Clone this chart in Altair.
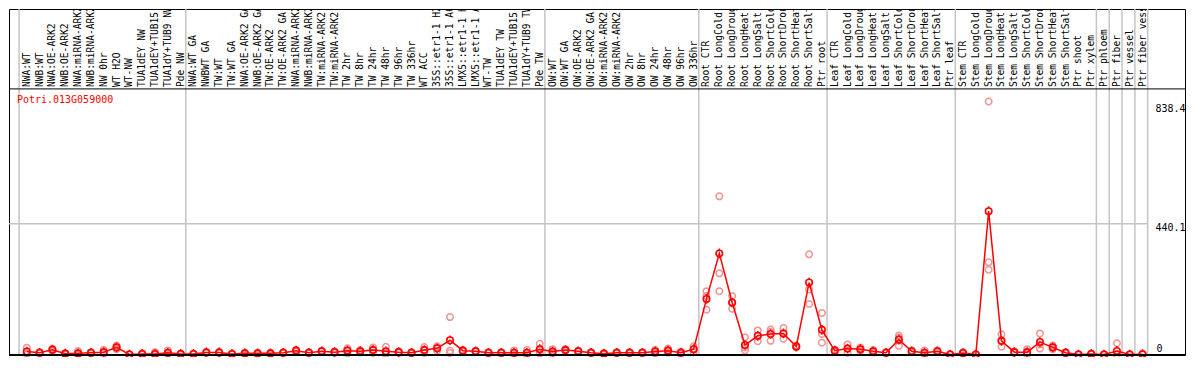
import altair as alt
import pandas as pd

gene = "Potri.013G059000"

labels = [
    "NWA:WT", "NWB:WT", "NWA:OE-ARK2", "NWB:OE-ARK2", "NWA:miRNA-ARK2", "NWB:miRNA-ARK2",
    "NW 0hr", "WT H2O", "WT-NW", "TUA1dEY NW", "TUA1dEY+TUB15 NW", "TUA1dY+TUB9 NW", "Pde NW",
    "NWA:WT GA", "NWBWT GA", "TW:WT", "TW:WT GA", "NWA:OE-ARK2 GA", "NWB:OE-ARK2 GA",
    "TW:OE-ARK2", "TW:OE-ARK2 GA", "NWA:miRNA-ARK2 GA", "NWB:miRNA-ARK2 GA", "TW:miRNA-ARK2",
    "TW:miRNA-ARK2 GA", "TW 2hr", "TW 8hr", "TW 24hr", "TW 48hr", "TW 96hr", "TW 336hr",
    "WT ACC", "35S::etr1-1 H2O", "35S::etr1-1 ACC", "LMX5::etr1-1 H2O", "LMX5::etr1-1 ACC",
    "WT-TW", "TUA1dEY TW", "TUA1dEY+TUB15 TW", "TUA1dY+TUB9 TW", "Pde TW",
    "OW:WT", "OW:WT GA", "OW:OE-ARK2", "OW:OE-ARK2 GA", "OW:miRNA-ARK2", "OW:miRNA-ARK2 GA",
    "OW 2hr", "OW 8hr", "OW 24hr", "OW 48hr", "OW 96hr", "OW 336hr",
    "Root CTR", "Root LongCold", "Root LongDrought", "Root LongHeat", "Root LongSalt",
    "Root ShortCold", "Root ShortDrought", "Root ShortHeat", "Root ShortSalt", "Ptr root",
    "Leaf CTR", "Leaf LongCold", "Leaf LongDrought", "Leaf LongHeat", "Leaf LongSalt",
    "Leaf ShortCold", "Leaf ShortDrought", "Leaf ShortHeat", "Leaf ShortSalt", "Ptr leaf",
    "Stem CTR", "Stem LongCold", "Stem LongDrought", "Stem LongHeat", "Stem LongSalt",
    "Stem ShortCold", "Stem ShortDrought", "Stem ShortHeat", "Stem ShortSalt", "Ptr shoot",
    "Ptr xylem", "Ptr phloem", "Ptr fiber", "Ptr vessel", "Ptr fiber vessel",
]

means = [
    10, 6, 16, 3, 4, 6, 8, 24, 0, 2, 2, 6, 2,
    2, 7, 7, 2, 4, 4, 4, 6, 13, 6, 11, 8, 13, 11, 15, 11, 8, 6, 15, 21, 48, 13, 11, 6, 6, 6, 6, 18,
    10, 15, 11, 6, 3, 6, 6, 6, 10, 13, 6, 18,
    187, 340, 175, 32, 63, 69, 71, 27, 242, 83,
    13, 20, 18, 11, 6, 50, 11, 6, 11, 0,
    5, 0, 482, 46, 8, 8, 42, 24, 6, 0, 2,
    0, 12, 0, 1,
]

reps = [
    [23, 5, 2], [8, 6, 4], [20, 16, 12], [4, 3, 2], [12, 0, 0], [8, 6, 4], [16, 5, 3],
    [30, 24, 18], [0, 0, 0], [4, 2, 0], [8, 0, 0], [14, 3, 1], [3, 2, 1],
    [3, 2, 1], [9, 7, 5], [9, 7, 5], [3, 2, 1], [6, 4, 2], [6, 4, 2], [6, 4, 2], [8, 6, 4],
    [16, 13, 10], [8, 6, 4], [13, 11, 9], [10, 8, 6], [21, 14, 4], [15, 11, 7], [24, 16, 5],
    [26, 5, 2], [10, 8, 6], [8, 6, 4], [25, 15, 5], [28, 22, 13], [126, 13, 5], [15, 13, 11],
    [13, 11, 9], [8, 6, 4], [8, 6, 4], [14, 4, 0], [16, 2, 0], [36, 15, 3],
    [18, 8, 4], [18, 15, 12], [13, 11, 9], [8, 6, 4], [4, 3, 2], [8, 6, 4], [8, 6, 4],
    [8, 6, 4], [16, 10, 4], [20, 13, 6], [10, 6, 2], [28, 18, 8],
    [213, 197, 151], [532, 273, 213], [197, 174, 154], [58, 24, 14], [81, 63, 45],
    [84, 77, 46], [89, 71, 53], [30, 27, 24], [337, 219, 170], [140, 69, 40],
    [16, 13, 10], [34, 20, 6], [24, 18, 12], [15, 11, 7], [8, 6, 4], [64, 57, 29],
    [14, 11, 8], [14, 4, 0], [14, 11, 8], [1, 0, 0],
    [8, 5, 2], [1, 0, 0], [851, 310, 285], [68, 45, 26], [10, 8, 6], [18, 5, 1],
    [71, 34, 20], [30, 24, 18], [8, 6, 4], [0, 0, 0], [3, 2, 1],
    [0, 0, 0], [38, 0, 0], [0, 0, 0], [3, 1, 0],
]

group_sizes = [13, 28, 12, 10, 10, 11, 1, 1, 1, 1]
axis_values = [0, 440.1, 838.4]

W, H = 1176, 346
SX, SY = W / 1192, H / 368
X_MIN, X_MAX = -1.385, 90.31
Y_MIN, Y_MAX = -1.58, 1161.9
MONO = "DejaVu Sans Mono"

df = pd.DataFrame({"idx": list(range(len(labels))), "label": labels, "mean": means})
df_rep = pd.DataFrame([{"idx": i, "value": v} for i, r in enumerate(reps) for v in r])

starts = [0]
for g in group_sizes:
    starts.append(starts[-1] + g)
df_sep = pd.DataFrame({"pos": [s - 0.6 for s in starts]})

xs = alt.Scale(domain=[X_MIN, X_MAX], nice=False, zero=False)
ys = alt.Scale(domain=[Y_MIN, Y_MAX], nice=False, zero=False)

seps = alt.Chart(df_sep).mark_rule(color="#c4c4c4", strokeWidth=1.5).encode(
    x=alt.X("pos:Q", scale=xs, axis=None), y=alt.value(0), y2=alt.value(H)
)

grid = alt.Chart(
    pd.DataFrame({"v": [axis_values[1]], "x0": [X_MIN], "x1": [starts[-1] - 0.6]})
).mark_rule(color="#c4c4c4", strokeWidth=1.5).encode(
    y=alt.Y("v:Q", scale=ys, axis=None),
    x=alt.X("x0:Q", scale=xs, axis=None),
    x2="x1:Q",
)

label_sep = alt.Chart(pd.DataFrame({"a": [0]})).mark_rule(color="black", strokeWidth=1).encode(
    x=alt.value(0), x2=alt.value(W), y=alt.value(85 * SY)
)
bottom = alt.Chart(pd.DataFrame({"a": [0]})).mark_rule(color="black", strokeWidth=2).encode(
    x=alt.value(0), x2=alt.value(W), y=alt.value(H)
)

col_text = alt.Chart(df).mark_text(
    angle=270, align="left", baseline="middle", font=MONO, fontSize=9.6,
    color="black", clip=True,
).encode(x=alt.X("idx:Q", scale=xs, axis=None), y=alt.value(83 * SY), text="label:N")

gene_text = alt.Chart(pd.DataFrame({"t": [gene]})).mark_text(
    align="left", baseline="middle", font=MONO, fontSize=10, color="#ff0000"
).encode(x=alt.value(8 * SX), y=alt.value(97 * SY), text="t:N")

df_ax = pd.DataFrame({"v": axis_values, "lbl": [str(v) for v in axis_values]})
ax_hi = alt.Chart(df_ax).transform_filter("datum.v > 0").mark_text(
    align="left", baseline="middle", font=MONO, fontSize=10, color="black", dy=4
).encode(x=alt.value(1162 * SX), y=alt.Y("v:Q", scale=ys, axis=None), text="lbl:N")
ax_lo = alt.Chart(df_ax).transform_filter("datum.v == 0").mark_text(
    align="left", baseline="middle", font=MONO, fontSize=10, color="black", dy=-5.5
).encode(x=alt.value(1163 * SX), y=alt.Y("v:Q", scale=ys, axis=None), text="lbl:N")

line = alt.Chart(df).mark_line(color="#ff0000", strokeWidth=1.5).encode(
    x=alt.X("idx:Q", scale=xs, axis=None), y=alt.Y("mean:Q", scale=ys, axis=None)
)
rep_pts = alt.Chart(df_rep).mark_point(
    shape="circle", filled=False, color="#f09494", size=42, strokeWidth=1.5, opacity=1
).encode(x=alt.X("idx:Q", scale=xs, axis=None), y=alt.Y("value:Q", scale=ys, axis=None))
mean_pts = alt.Chart(df).mark_point(
    shape="circle", filled=False, color="#ff0000", size=42, strokeWidth=1.6, opacity=1
).encode(x=alt.X("idx:Q", scale=xs, axis=None), y=alt.Y("mean:Q", scale=ys, axis=None))
mean_ticks = alt.Chart(df).mark_point(
    shape="M0,-1.5L0,-0.95M0,0.95L0,1.5", filled=False, color="#ff0000",
    size=42, strokeWidth=1.5, opacity=1,
).encode(x=alt.X("idx:Q", scale=xs, axis=None), y=alt.Y("mean:Q", scale=ys, axis=None))

chart = alt.layer(
    seps, grid, label_sep, col_text, gene_text, ax_hi, ax_lo,
    rep_pts, line, mean_pts, mean_ticks, bottom,
).properties(
    width=W, height=H,
    padding={"left": 1, "top": 1, "right": 1, "bottom": 2},
    autosize=alt.AutoSizeParams(type="none"),
    background="white",
).configure_view(stroke="black", strokeWidth=1)

chart.save("out.html", embed_options={"renderer": "svg", "actions": False})
